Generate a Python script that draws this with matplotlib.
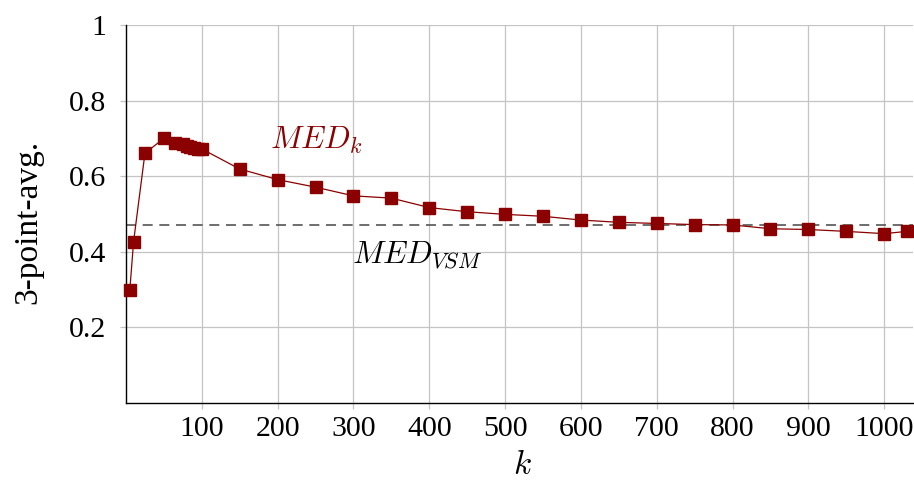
import matplotlib
matplotlib.use("Agg")
import matplotlib.pyplot as plt

k_values = [5, 10, 25, 50, 65, 75, 80, 85, 90, 95, 100, 150, 200, 250, 300, 350, 400,
            450, 500, 550, 600, 650, 700, 750, 800, 850, 900, 950, 1000, 1030]
avg_values = [0.298, 0.427, 0.661, 0.700, 0.689, 0.685, 0.680, 0.677, 0.674, 0.673, 0.672,
              0.619, 0.591, 0.571, 0.548, 0.542, 0.517, 0.506, 0.499, 0.494, 0.484,
              0.478, 0.475, 0.472, 0.471, 0.461, 0.459, 0.454, 0.448, 0.454]
vsm_value = 0.470
x_ticks = [100, 200, 300, 400, 500, 600, 700, 800, 900, 1000]
y_ticks = [0.2, 0.4, 0.6, 0.8, 1.0]
y_tick_labels = ["0.2", "0.4", "0.6", "0.8", "1"]

plt.rcParams['font.family'] = ['Liberation Serif', 'DejaVu Serif']
plt.rcParams['mathtext.fontset'] = 'cm'

fig = plt.figure(figsize=(9.14, 4.82), dpi=100)
ax = fig.add_axes([126 / 914, 1 - 403 / 482, (913 - 126) / 914, (403 - 25) / 482])

dark_red = '#8b0000'
xmax = 1038
ax.plot([0, xmax], [vsm_value, vsm_value], color='#555555', lw=1.2, ls=(0, (6, 4)), zorder=2)
ax.plot(k_values, avg_values, color=dark_red, lw=0.9, marker='s', markersize=8,
        markerfacecolor=dark_red, markeredgecolor=dark_red, zorder=3, clip_on=False)

ax.set_xlim(0, xmax)
ax.set_ylim(0, 1)
ax.set_xticks(x_ticks)
ax.set_yticks(y_ticks)
ax.set_yticklabels(y_tick_labels)
ax.grid(True, color='#c4c4c4', lw=0.9)
ax.set_axisbelow(True)
for s in ['top', 'right']:
    ax.spines[s].set_visible(False)
for s in ['left', 'bottom']:
    ax.spines[s].set_color('black')
    ax.spines[s].set_linewidth(1.0)
ax.tick_params(axis='both', labelsize=21.5, color='#c4c4c4', length=4, width=0.9)
ax.tick_params(axis='y', pad=10)
ax.tick_params(axis='x', pad=5)

ax.text(190, 0.672, r'$MED_k$', color=dark_red, fontsize=22.5)
ax.text(298, 0.369, r'$MED_{VSM}$', color='black', fontsize=22.5)

ax.set_xlabel(r'$k$', fontsize=24)
ax.xaxis.set_label_coords(0.504, -0.125)
ax.set_ylabel('3-point-avg.', fontsize=24)
ax.yaxis.set_label_coords(-0.105, 0.48)

fig.savefig('out.png', dpi=100)
